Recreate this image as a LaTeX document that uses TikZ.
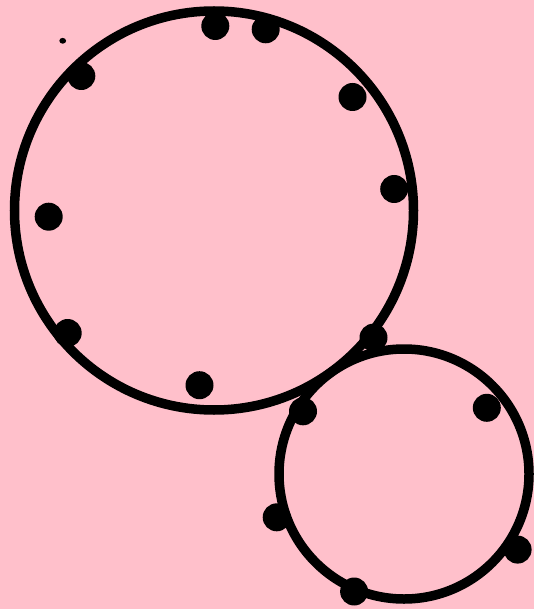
\documentclass[tikz,border=0pt]{standalone}
\definecolor{bgpink}{RGB}{255,192,203}
\begin{document}
\begin{tikzpicture}[x=1pt,y=-1pt,
  ring/.style={draw=black,line width=9.5pt},
  blob/.style={fill=black}]
\fill[bgpink] (0,0) rectangle (534,609);
\useasboundingbox (0,0) rectangle (534,609);
\coordinate (bigc) at (214,210.5);
\coordinate (smallc) at (404,474);
\draw[ring] (bigc) circle[radius=199.5pt];
\draw[ring] (smallc) circle[radius=125pt];
\foreach \x/\y in {215.3/26, 265.7/29.3, 81.3/76, 352.5/97, 394.2/189,
  48.7/216.7, 67.7/333, 373.5/337.6, 199.5/385.2, 303/411.3,
  486.8/407.8, 276.7/517.3, 517.6/549.6, 354.1/591.5}
  \fill[blob] (\x,\y) circle[radius=14pt];
\fill[blob] (62.7,40.8) ellipse[x radius=3.4pt, y radius=2.9pt];
\end{tikzpicture}
\end{document}
